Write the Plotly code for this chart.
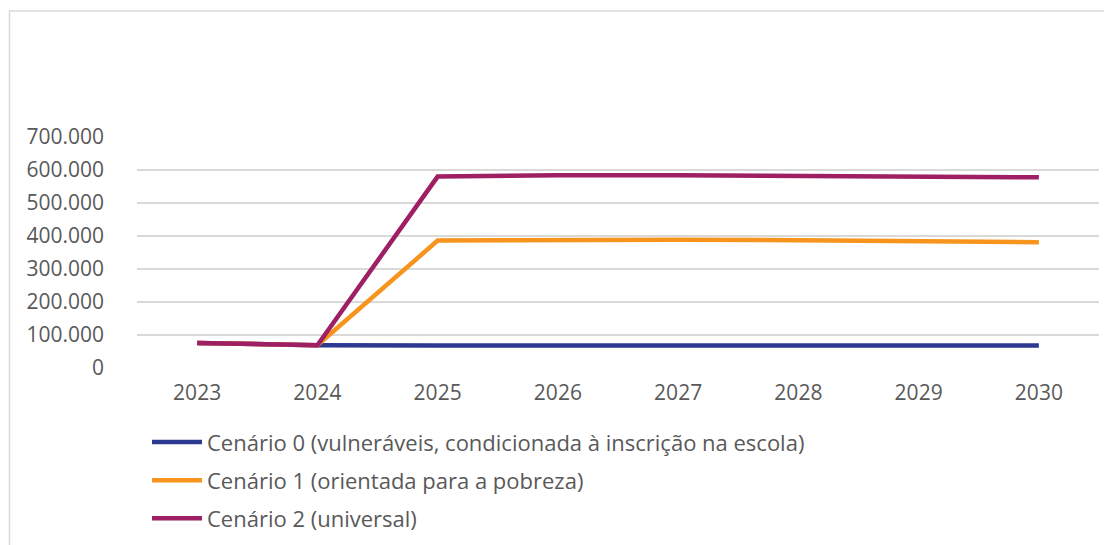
import plotly.graph_objects as go

years = ["2023", "2024", "2025", "2026", "2027", "2028", "2029", "2030"]
cenario0 = [76000, 69000, 68000, 68000, 68000, 68000, 68000, 68000]
cenario1 = [76000, 69000, 386000, 389000, 389000, 387000, 384000, 381000]
cenario2 = [76000, 69000, 580000, 584000, 584000, 582000, 580000, 578000]
names = [
    "Cenário 0 (vulneráveis, condicionada à inscrição na escola)",
    "Cenário 1 (orientada para a pobreza)",
    "Cenário 2 (universal)",
]
colors = ["#2B3990", "#F7941D", "#9E1F63"]
y_ticks = [0, 100000, 200000, 300000, 400000, 500000, 600000, 700000]

fig = go.Figure()
for i, (name, vals, col) in enumerate(zip(names, [cenario0, cenario1, cenario2], colors)):
    fig.add_trace(go.Scatter(x=years, y=vals, name=name, mode="lines",
                             legendgroup=f"g{i}",
                             line=dict(color=col, width=4.5)))

# page body has an 8px margin; compensate so the figure lands where the reference is
OFF = 8
W, H = 1112, 545
ml = 137 - OFF
mt = 136.5 - OFF
pw, ph = 962, 232
mr = W - ml - pw
mb = H - mt - ph

def px_x(x):
    return (x - OFF - ml) / pw

def px_y(y):
    return (mt + ph - (y - OFF)) / ph

fig.update_layout(
    width=W, height=H,
    margin=dict(l=ml, r=mr, t=mt, b=mb, autoexpand=False),
    paper_bgcolor="white", plot_bgcolor="white",
    separators=",.",
    font=dict(family="Open Sans", size=21, color="#595959"),
    showlegend=True,
    legend=dict(orientation="v", x=px_x(147), xanchor="left",
                y=px_y(422), yanchor="top",
                font=dict(size=22, color="#595959"),
                tracegroupgap=6.5, itemwidth=50, bgcolor="rgba(0,0,0,0)"),
    xaxis=dict(type="category", range=[-0.5, 7.5], showgrid=False,
               showline=False, zeroline=False, ticks="",
               ticklabelstandoff=10, tickfont=dict(size=21, color="#595959")),
    yaxis=dict(range=[0, 700000], tickvals=y_ticks, tickformat=",d",
               showgrid=True, gridcolor="#D9D9D9", gridwidth=1.5,
               zeroline=False, showline=False, ticks="",
               ticklabelstandoff=32, tickfont=dict(size=21, color="#595959")),
    shapes=[dict(type="rect", xref="paper", yref="paper",
                 x0=px_x(9.5), x1=px_x(1140), y0=px_y(580), y1=px_y(10),
                 line=dict(color="#D9D9D9", width=1.5), fillcolor="rgba(0,0,0,0)",
                 layer="below")],
)

fig.write_html("out.html")
